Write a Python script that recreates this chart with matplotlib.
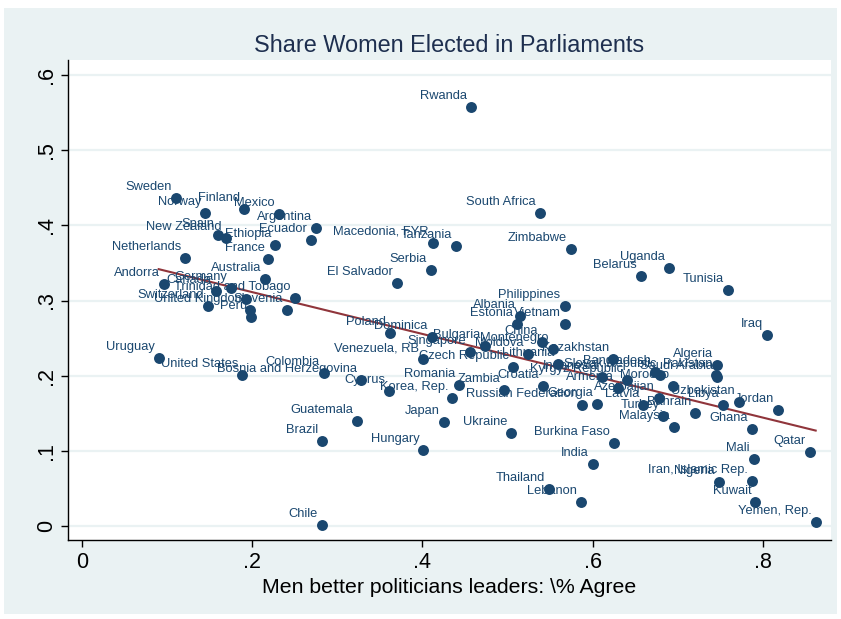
import numpy as np
import matplotlib
matplotlib.use("Agg")
import matplotlib.pyplot as plt
from matplotlib.patches import Rectangle

plt.rcParams['font.family'] = ['Liberation Sans', 'DejaVu Sans']

countries = [
    "Sweden", "Norway", "Finland", "Mexico", "Argentina", "Ecuador", "Spain",
    "New Zealand", "Ethiopia", "France", "Netherlands", "Australia", "Andorra",
    "Canada", "Germany", "Trinidad and Tobago", "Switzerland", "United Kingdom",
    "Peru", "Slovenia", "", "Uruguay", "United States", "Colombia",
    "Bosnia and Herzegovina", "Cyprus", "Korea, Rep.", "Guatemala", "Brazil",
    "Chile", "Hungary", "Japan", "Ukraine", "Romania", "Zambia", "Croatia",
    "Russian Federation", "Georgia", "Poland", "Dominica", "Venezuela, RB",
    "Singapore", "Bulgaria", "Czech Republic", "Moldova", "Albania", "Estonia",
    "Vietnam", "Philippines", "China", "Montenegro", "Kazakhstan", "Lithuania",
    "Indonesia", "Kyrgyz Republic", "Bangladesh", "Slovak Republic", "Morocco",
    "Armenia", "Azerbaijan", "Latvia", "Algeria", "Pakistan", "Saudi Arabia",
    "Uzbekistan", "Libya", "Jordan", "Bahrain", "Turkey", "Malaysia", "Ghana",
    "Iraq", "Tunisia", "Uganda", "Belarus", "Zimbabwe", "South Africa", "Rwanda",
    "Macedonia, FYR", "Tanzania", "Serbia", "El Salvador", "Qatar", "Mali",
    "Burkina Faso", "India", "Thailand", "Lebanon", "Iran, Islamic Rep.",
    "Nigeria", "Kuwait", "Yemen, Rep.",
]

# share agreeing that men make better political leaders
men_better = [
    0.110, 0.145, 0.190, 0.231, 0.275, 0.269, 0.160,
    0.169, 0.227, 0.219, 0.121, 0.215, 0.096,
    0.157, 0.175, 0.250, 0.148, 0.197,
    0.199, 0.241, 0.193, 0.090, 0.188, 0.284,
    0.328, 0.361, 0.435, 0.323, 0.282,
    0.282, 0.401, 0.425, 0.504, 0.443, 0.496, 0.542,
    0.587, 0.605, 0.362, 0.411, 0.401,
    0.456, 0.473, 0.506, 0.524, 0.515, 0.511,
    0.567, 0.567, 0.540, 0.553, 0.624, 0.559,
    0.611, 0.640, 0.673, 0.679, 0.694,
    0.630, 0.678, 0.659, 0.746, 0.745, 0.746,
    0.772, 0.753, 0.818, 0.720, 0.683, 0.695, 0.787,
    0.805, 0.759, 0.690, 0.657, 0.574, 0.538, 0.457,
    0.412, 0.439, 0.410, 0.370, 0.855, 0.789,
    0.625, 0.600, 0.549, 0.586, 0.787,
    0.748, 0.791, 0.862,
]

# share of seats held by women
women_share = [
    0.436, 0.416, 0.422, 0.415, 0.396, 0.381, 0.387,
    0.383, 0.374, 0.355, 0.357, 0.329, 0.322,
    0.313, 0.317, 0.303, 0.293, 0.287,
    0.278, 0.287, 0.302, 0.224, 0.201, 0.204,
    0.194, 0.180, 0.170, 0.140, 0.113,
    0.001, 0.101, 0.138, 0.124, 0.188, 0.181, 0.186,
    0.161, 0.162, 0.257, 0.251, 0.222,
    0.232, 0.240, 0.212, 0.229, 0.279, 0.269,
    0.269, 0.293, 0.245, 0.236, 0.222, 0.216,
    0.198, 0.194, 0.205, 0.201, 0.186,
    0.184, 0.170, 0.161, 0.214, 0.201, 0.198,
    0.165, 0.161, 0.154, 0.150, 0.146, 0.132, 0.129,
    0.254, 0.314, 0.343, 0.333, 0.369, 0.416, 0.557,
    0.377, 0.373, 0.341, 0.323, 0.098, 0.089,
    0.110, 0.083, 0.049, 0.032, 0.060,
    0.059, 0.032, 0.005,
]

x_ticks = [0, 0.2, 0.4, 0.6, 0.8]
x_ticklabels = ["0", ".2", ".4", ".6", ".8"]
y_ticks = [0, 0.1, 0.2, 0.3, 0.4, 0.5, 0.6]
y_ticklabels = ["0", ".1", ".2", ".3", ".4", ".5", ".6"]

navy = "#1a476f"
maroon = "#90353b"
bg = "#eaf2f3"

x = np.array(men_better)
y = np.array(women_share)

fig = plt.figure(figsize=(8.41, 6.19), dpi=100, facecolor="white")
fig.patches.append(Rectangle((4 / 841, 5 / 619), 833 / 841, 606 / 619,
                             transform=fig.transFigure, facecolor=bg,
                             edgecolor="none", zorder=-10))

ax = fig.add_axes([68 / 841, 1 - 540 / 619, 763 / 841, 480 / 619])
ax.set_facecolor("white")

for yt in y_ticks:
    ax.axhline(yt, color=bg, lw=1.6, zorder=0)

ax.scatter(x, y, s=62, color=navy, zorder=3, linewidths=0)
for name, xi, yi in zip(countries, x, y):
    if name:
        ax.annotate(name, (xi, yi), xytext=(-2.9, 5.8), textcoords="offset points",
                    ha="right", va="baseline", fontsize=9.3, color=navy, zorder=4)

# linear fit over the observed range
b, a = np.polyfit(x, y, 1)
xf = np.array([x.min(), x.max()])
ax.plot(xf, a + b * xf, color=maroon, lw=1.5, zorder=2)

ax.set_xlim(-0.0165, 0.880)
ax.set_ylim(-0.0186, 0.620)
ax.set_xticks(x_ticks)
ax.set_xticklabels(x_ticklabels, fontsize=15.5)
ax.set_yticks(y_ticks)
ax.set_yticklabels(y_ticklabels, fontsize=15.5, rotation=90, va="center")
ax.tick_params(axis="both", direction="out", length=5, width=1, color="black")
ax.tick_params(axis="y", pad=3)
ax.tick_params(axis="x", pad=4)

for side in ["top", "right"]:
    ax.spines[side].set_visible(False)
for side in ["left", "bottom"]:
    ax.spines[side].set_color("black")
    ax.spines[side].set_linewidth(1)

ax.set_xlabel("Men better politicians leaders: \\% Agree", fontsize=15.3, labelpad=3)
ax.set_title("Share Women Elected in Parliaments", fontsize=16.9, color="#1e2f4f", pad=6)

fig.savefig("out.png", dpi=100, facecolor=fig.get_facecolor())
